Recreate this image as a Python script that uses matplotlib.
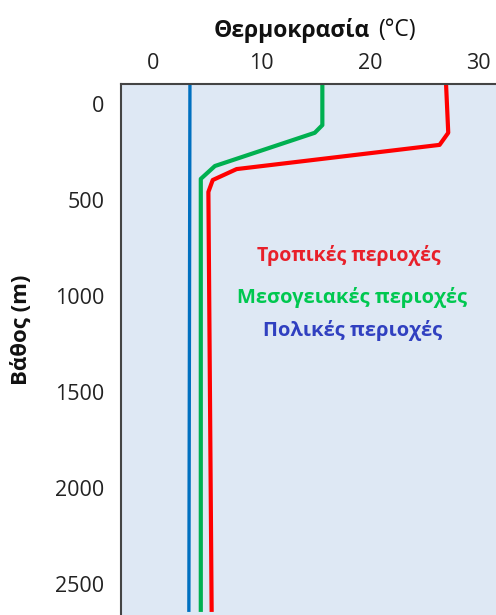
import matplotlib
matplotlib.use("Agg")
import matplotlib.pyplot as plt

plt.rcParams['font.family'] = ['Open Sans', 'DejaVu Sans']

# depth (m) and temperature (°C) profiles
polar_depth = [-100, 2645]
polar_temp = [3.4, 3.3]

med_depth = [-100, 110, 150, 323, 390, 2645]
med_temp = [15.6, 15.6, 14.9, 5.7, 4.4, 4.4]

trop_depth = [-100, 150, 213, 339, 396, 458, 2645]
trop_temp = [27.0, 27.2, 26.4, 7.7, 5.5, 5.1, 5.4]

x_ticks = [0, 10, 20, 30]
y_ticks = [0, 500, 1000, 1500, 2000, 2500]

fig = plt.figure(figsize=(4.96, 6.15), dpi=100)
ax = fig.add_axes([0.244, 0.0, 0.756, 0.8634])
ax.set_facecolor('#DEE8F4')

ax.plot(polar_temp, polar_depth, color='#0070C0', lw=2.4, solid_capstyle='butt')
ax.plot(med_temp, med_depth, color='#00B050', lw=3, solid_capstyle='butt')
ax.plot(trop_temp, trop_depth, color='#FF0000', lw=3, solid_capstyle='butt')

ax.set_xlim(-2.95, 31.6)
ax.set_ylim(2661, -104)
ax.set_xticks(x_ticks)
ax.set_yticks(y_ticks)
ax.xaxis.tick_top()
ax.tick_params(length=0, labelsize=15.5, colors='#222222')
ax.tick_params(axis='x', pad=7)
ax.tick_params(axis='y', pad=12)
for s in ['right', 'bottom']:
    ax.spines[s].set_visible(False)
for s in ['top', 'left']:
    ax.spines[s].set_color('#444444')
    ax.spines[s].set_linewidth(1.5)

t = fig.text(0.745, 0.951, 'Θερμοκρασία', ha='right', va='center',
             fontsize=16.5, fontweight='bold', color='#111111')
ax.annotate('(°C)', xy=(1, 0.5), xycoords=t, xytext=(6, 0),
            textcoords='offset points', va='center', ha='left',
            fontsize=16.5, color='#111111')

fig.text(0.044, 0.463, 'Βάθος (m)', rotation=90, ha='center', va='center',
         fontsize=16, fontweight='bold', color='#111111')

fig.text(0.704, 0.585, 'Τροπικές περιοχές', ha='center', va='center',
         fontsize=14, fontweight='bold', color='#E8202A')
fig.text(0.71, 0.517, 'Μεσογειακές περιοχές', ha='center', va='center',
         fontsize=14.5, fontweight='bold', color='#00C850')
fig.text(0.71, 0.463, 'Πολικές περιοχές', ha='center', va='center',
         fontsize=14.5, fontweight='bold', color='#3040C0')

fig.savefig('out.png', dpi=100)
